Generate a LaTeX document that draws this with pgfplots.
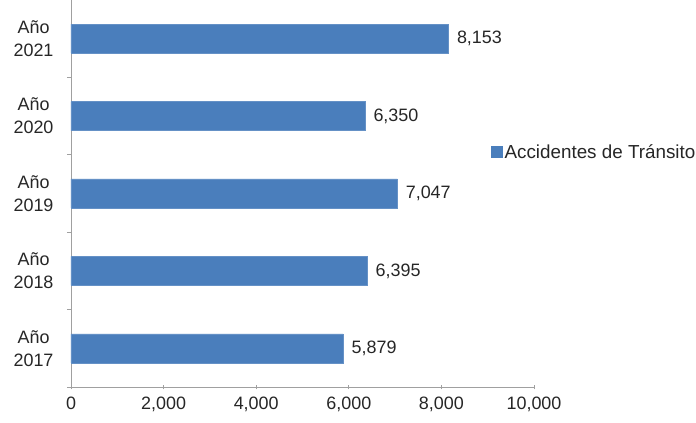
\documentclass[border=0pt]{standalone}
\usepackage{fontspec}
\setmainfont{Liberation Sans}
\usepackage{pgfplots}
\pgfplotsset{compat=1.18}
\definecolor{barblue}{HTML}{4A7EBC}
\definecolor{axgray}{HTML}{A0A0A0}
\definecolor{txtgray}{HTML}{262626}
\begin{document}
\begin{tikzpicture}[font=\fontsize{18}{23}\selectfont]
\begin{axis}[name=ax, scale only axis, width=463bp, height=387bp,
  xbar, bar width=29bp,
  xmin=0, xmax=10000, ymin=-0.5, ymax=4.5,
  axis lines*=left,
  axis line style={draw=axgray, line width=0.8bp},
  xtick={0,2000,...,10000},
  scaled x ticks=false,
  /pgf/number format/.cd, 1000 sep={,}, assume math mode=true, /pgfplots/.cd,
  xtick align=center,
  x tick style={draw=axgray, line width=0.8bp},
  major tick length=5bp,
  xticklabel style={text=txtgray, font=\fontsize{18}{23}\selectfont, yshift=-4bp},
  ytick={0,1,2,3,4},
  yticklabels={Año\\2017, Año\\2018, Año\\2019, Año\\2020, Año\\2021},
  y tick style={draw=none},
  yticklabel style={align=center, text=txtgray, font=\fontsize{18}{23}\selectfont, xshift=-9bp},
  extra y ticks={-0.5,0.5,1.5,2.5,3.5},
  extra y tick labels={},
  extra y tick style={ytick align=outside, y tick style={draw=axgray, line width=0.8bp}, major tick length=4bp},
  nodes near coords,
  nodes near coords style={anchor=west, text=txtgray, font=\fontsize{18}{23}\selectfont, xshift=5bp, /pgf/number format/.cd, fixed, 1000 sep={,}, assume math mode=true},
  legend style={at={(0.907,0.607)}, anchor=west, draw=none, fill=none, inner sep=0pt,
    font=\fontsize{18.9}{23}\selectfont, text=txtgray, nodes={inner xsep=2bp}},
  legend cell align=left,
  clip=false,
]
\addplot[fill=barblue, draw=barblue!85!white,
  legend image code/.code={\fill[barblue] (0bp,-5.5bp) rectangle (11bp,5.5bp);}]
  coordinates {(5879,0) (6395,1) (7047,2) (6350,3) (8153,4)};
\addlegendentry{Accidentes de Tránsito}
\end{axis}
\pgfresetboundingbox
\path[use as bounding box] (ax.south west) ++(-71bp,-36bp) rectangle ++(696bp,423bp);
\end{tikzpicture}
\end{document}
